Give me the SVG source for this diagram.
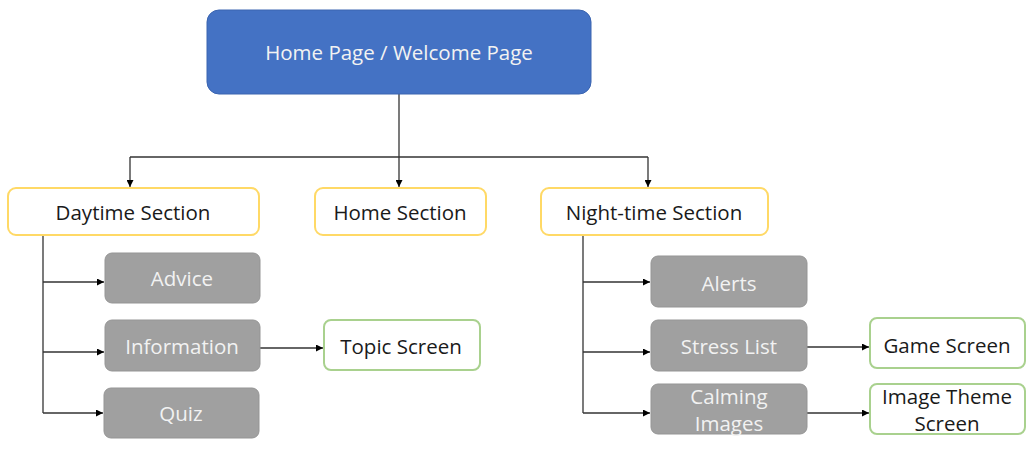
<svg xmlns="http://www.w3.org/2000/svg" width="1032" height="450" viewBox="0 0 1032 450">
<defs>
<marker id="arr" viewBox="0 0 10 10" refX="10" refY="5" markerWidth="7" markerHeight="7" markerUnits="userSpaceOnUse" orient="auto">
<path d="M0,0 L10,5 L0,10 z" fill="#000"/>
</marker>
<style>
.t{font-family:"Open Sans","Liberation Sans",sans-serif;font-size:20.5px;text-anchor:middle;dominant-baseline:central}
.dark{fill:#1a1a1a}
.light{fill:#f2f2f2}
.blue{fill:#4472C4;stroke:#3A64B0;stroke-width:1}
.sec{fill:#fff;stroke:#FFD966;stroke-width:2}
.gray{fill:#A0A0A0;stroke:#959595;stroke-width:1}
.grn{fill:#fff;stroke:#A9D18E;stroke-width:2}
.c{fill:none;stroke:#333;stroke-width:1.3}
</style>
</defs>
<g id="connectors">
<path class="c" d="M399,94 V157"/>
<path class="c" d="M130,157 H648"/>
<path class="c" d="M130,157 V187" marker-end="url(#arr)"/>
<path class="c" d="M399,157 V187" marker-end="url(#arr)"/>
<path class="c" d="M648,157 V187" marker-end="url(#arr)"/>
<path class="c" d="M43,235 V413"/>
<path class="c" d="M43,282 H104" marker-end="url(#arr)"/>
<path class="c" d="M43,352 H104" marker-end="url(#arr)"/>
<path class="c" d="M43,413 H103" marker-end="url(#arr)"/>
<path class="c" d="M260,348 H323" marker-end="url(#arr)"/>
<path class="c" d="M583,235 V413"/>
<path class="c" d="M583,282 H650" marker-end="url(#arr)"/>
<path class="c" d="M583,352 H650" marker-end="url(#arr)"/>
<path class="c" d="M583,413 H650" marker-end="url(#arr)"/>
<path class="c" d="M807,347 H869" marker-end="url(#arr)"/>
<path class="c" d="M807,413 H869" marker-end="url(#arr)"/>
</g>
<g id="home-page"><rect class="blue" x="207" y="10" width="384" height="84" rx="12"/><text class="t light" x="399" y="52">Home Page / Welcome Page</text></g>
<g id="daytime"><rect class="sec" x="8" y="188" width="251" height="47" rx="8"/><text class="t dark" x="133" y="212">Daytime Section</text></g>
<g id="home-section"><rect class="sec" x="315" y="188" width="171" height="47" rx="8"/><text class="t dark" x="400" y="212">Home Section</text></g>
<g id="night"><rect class="sec" x="541" y="188" width="227" height="47" rx="8"/><text class="t dark" x="654" y="212">Night-time Section</text></g>
<g id="advice"><rect class="gray" x="105" y="253" width="155" height="50" rx="7"/><text class="t light" x="182" y="278">Advice</text></g>
<g id="information"><rect class="gray" x="105" y="320" width="155" height="51" rx="7"/><text class="t light" x="182" y="346">Information</text></g>
<g id="quiz"><rect class="gray" x="104" y="388" width="155" height="50" rx="7"/><text class="t light" x="181" y="413">Quiz</text></g>
<g id="topic"><rect class="grn" x="324" y="320" width="156" height="50" rx="7"/><text class="t dark" x="401" y="346">Topic Screen</text></g>
<g id="alerts"><rect class="gray" x="651" y="256" width="156" height="51" rx="7"/><text class="t light" x="729" y="283">Alerts</text></g>
<g id="stress"><rect class="gray" x="651" y="320" width="156" height="51" rx="7"/><text class="t light" x="729" y="346">Stress List</text></g>
<g id="calming"><rect class="gray" x="651" y="384" width="156" height="50" rx="7"/><text class="t light" x="729" y="396">Calming</text><text class="t light" x="729" y="423">Images</text></g>
<g id="game"><rect class="grn" x="870" y="318" width="155" height="50" rx="7"/><text class="t dark" x="947" y="345">Game Screen</text></g>
<g id="image-theme"><rect class="grn" x="870" y="384" width="155" height="50" rx="7"/><text class="t dark" x="947" y="396">Image Theme</text><text class="t dark" x="947" y="423">Screen</text></g>
</svg>
